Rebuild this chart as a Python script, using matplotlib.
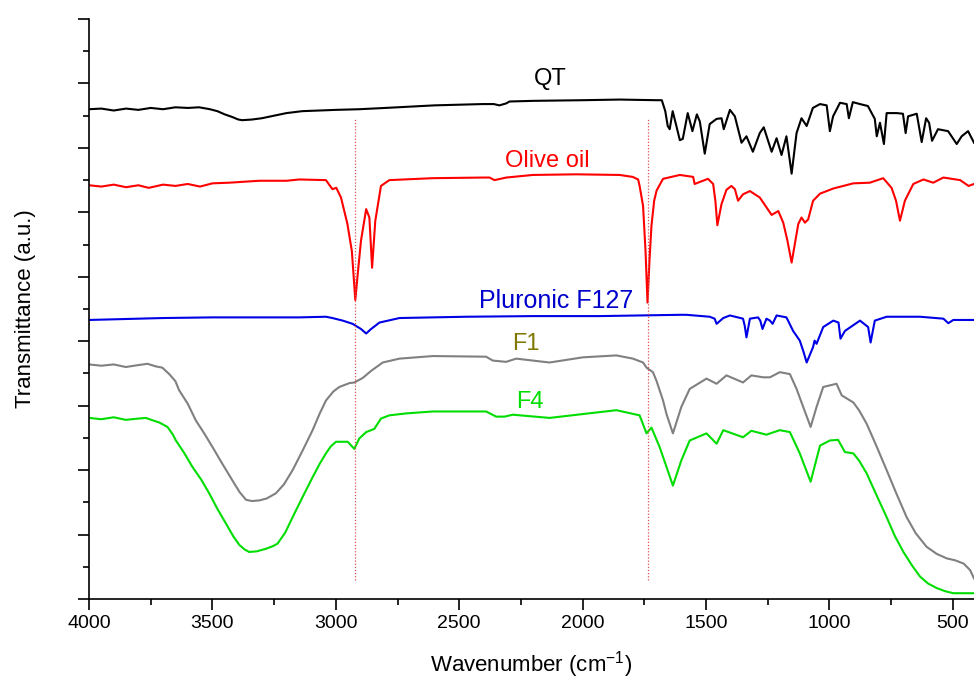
import numpy as np
import matplotlib
matplotlib.use("Agg")
import matplotlib.pyplot as plt
from matplotlib.ticker import MultipleLocator

plt.rcParams['font.family'] = ['Liberation Sans', 'DejaVu Sans']
plt.rcParams['mathtext.fontset'] = 'custom'
plt.rcParams['mathtext.rm'] = 'Liberation Sans'
plt.rcParams['mathtext.it'] = 'Liberation Sans'

## spectra (wavenumber in cm-1, transmittance in a.u.)
qt_w = [4000, 3950, 3900, 3850, 3800, 3750, 3700, 3650, 3600, 3554, 3510, 3480, 3450, 3420,
        3395, 3379, 3340, 3300, 3250, 3200, 3136, 3000, 2905, 2800, 2600,
        2405, 2360, 2337, 2310, 2296, 2200, 2000, 1850, 1700, 1679, 1665, 1655, 1647, 1635,
        1620, 1606, 1594, 1574, 1555, 1537, 1525, 1505, 1485, 1457, 1437, 1428, 1403, 1383,
        1356, 1336, 1310, 1282, 1266, 1234, 1214, 1194, 1174, 1153, 1133, 1113, 1092, 1067,
        1038, 1011, 998, 985, 957, 930, 921, 905, 876, 844, 816, 808, 795, 779, 768, 727,
        702, 691, 681, 646, 626, 608, 596, 584, 560, 519, 484, 464, 438, 414]
qt_t = [7.60, 7.61, 7.58, 7.61, 7.59, 7.62, 7.60, 7.63, 7.62, 7.63, 7.60, 7.57, 7.52, 7.48,
        7.44, 7.43, 7.44, 7.46, 7.50, 7.54, 7.57, 7.59, 7.60, 7.62, 7.66,
        7.68, 7.68, 7.66, 7.69, 7.72, 7.73, 7.74, 7.75, 7.74, 7.74, 7.57, 7.34, 7.29, 7.57,
        7.34, 7.12, 7.14, 7.54, 7.26, 7.52, 7.41, 6.91, 7.37, 7.45, 7.46, 7.29, 7.59, 7.49,
        7.08, 7.18, 6.94, 7.23, 7.32, 6.94, 7.15, 6.89, 7.18, 6.60, 7.23, 7.46, 7.34, 7.62,
        7.68, 7.66, 7.26, 7.49, 7.70, 7.68, 7.46, 7.71, 7.68, 7.65, 7.45, 7.18, 7.39, 7.06,
        7.54, 7.54, 7.53, 7.23, 7.49, 7.53, 7.09, 7.46, 7.39, 7.11, 7.29, 7.26, 7.06, 7.18,
        7.26, 7.08]

oil_w = [4000, 3950, 3900, 3850, 3800, 3758, 3700, 3650, 3600, 3550, 3500, 3432, 3310, 3200,
         3148, 3040, 3014, 2998, 2979,
         2953, 2935, 2921, 2910, 2898, 2877, 2864, 2853, 2840, 2817, 2783, 2608, 2400, 2377,
         2357, 2309, 2202, 2026, 1850, 1797, 1775, 1769, 1755, 1745, 1737, 1729, 1721, 1710,
         1700, 1674, 1606, 1552, 1546, 1492, 1471, 1462, 1454, 1437, 1417, 1397, 1383, 1370,
         1350, 1322, 1282, 1234, 1207, 1187, 1170, 1153, 1126, 1113, 1099, 1086, 1066, 1038,
         984, 903, 836, 782, 748, 730, 714, 694, 660, 619, 579, 538, 470, 436, 414]
oil_t = [6.42, 6.40, 6.43, 6.39, 6.42, 6.38, 6.43, 6.41, 6.44, 6.40, 6.45, 6.46, 6.49, 6.49,
         6.51, 6.50, 6.36, 6.38, 6.23,
         5.82, 5.40, 4.64, 5.09, 5.56, 6.05, 5.92, 5.14, 5.87, 6.41, 6.50, 6.53, 6.54, 6.54,
         6.50, 6.54, 6.58, 6.59, 6.58, 6.55, 6.51, 6.41, 6.10, 5.40, 4.60, 5.25, 5.79, 6.18,
         6.34, 6.52, 6.58, 6.55, 6.44, 6.52, 6.44, 6.18, 5.80, 6.13, 6.35, 6.41, 6.36, 6.18,
         6.28, 6.33, 6.23, 5.96, 6.02, 5.84, 5.56, 5.22, 5.82, 5.92, 5.84, 5.89, 6.18, 6.29,
         6.37, 6.45, 6.46, 6.53, 6.38, 6.18, 5.87, 6.18, 6.44, 6.51, 6.46, 6.54, 6.50, 6.41, 6.44]

f127_w = [4000, 3900, 3800, 3700, 3500, 3300, 3148, 3040, 3014, 2972, 2932, 2898, 2877, 2857,
          2823, 2742, 2472, 2200, 1931, 1606, 1579, 1485, 1465, 1457, 1430, 1403, 1350, 1343,
          1336, 1322, 1289, 1280, 1271, 1255, 1241, 1230, 1214, 1174, 1147, 1120, 1106, 1092,
          1066, 1060, 1052, 1025, 984, 963, 955, 937, 876, 843, 833, 816, 768, 633, 538, 518,
          498, 414]
f127_t = [4.33, 4.34, 4.35, 4.36, 4.37, 4.37, 4.37, 4.38, 4.36, 4.32, 4.27, 4.19, 4.12, 4.19,
          4.29, 4.36, 4.38, 4.39, 4.39, 4.41, 4.41, 4.38, 4.35, 4.27, 4.36, 4.40, 4.35, 4.24,
          4.06, 4.35, 4.37, 4.32, 4.19, 4.35, 4.32, 4.27, 4.40, 4.37, 4.16, 4.01, 3.85, 3.67,
          3.91, 4.01, 3.96, 4.22, 4.32, 4.29, 4.04, 4.16, 4.32, 4.22, 3.98, 4.32, 4.38, 4.38,
          4.35, 4.28, 4.33, 4.33]

f1_w = [4000, 3950, 3900, 3851, 3800, 3763, 3730, 3703, 3675, 3650, 3635, 3600, 3567, 3530,
        3500, 3460, 3419, 3390, 3364, 3340, 3310, 3280, 3243, 3210, 3175, 3135, 3094, 3065,
        3040, 3010, 2986, 2945, 2925, 2891, 2857, 2810, 2742, 2607, 2391, 2364, 2310, 2269,
        2134, 1999, 1863, 1796, 1755, 1741, 1715, 1701, 1674, 1660, 1634, 1600, 1566, 1498,
        1457, 1417, 1350, 1316, 1268, 1241, 1201, 1160, 1133, 1106, 1076, 1052, 1025, 971,
        950, 903, 880, 849, 810, 768, 730, 687, 650, 606, 565, 524, 490, 456, 430, 414]
f1_t = [3.64, 3.62, 3.64, 3.60, 3.63, 3.65, 3.61, 3.59, 3.49, 3.38, 3.24, 3.03, 2.77, 2.55,
        2.36, 2.10, 1.84, 1.66, 1.54, 1.52, 1.53, 1.56, 1.64, 1.78, 2.00, 2.30, 2.62, 2.88,
        3.08, 3.22, 3.29, 3.35, 3.36, 3.43, 3.54, 3.67, 3.73, 3.77, 3.76, 3.70, 3.68, 3.73,
        3.67, 3.75, 3.78, 3.73, 3.67, 3.59, 3.52, 3.39, 3.08, 2.87, 2.57, 2.98, 3.26, 3.42,
        3.34, 3.47, 3.36, 3.47, 3.44, 3.44, 3.52, 3.49, 3.26, 2.98, 2.67, 2.98, 3.29, 3.34,
        3.16, 3.05, 2.93, 2.72, 2.38, 2.00, 1.65, 1.27, 1.02, 0.81, 0.70, 0.63, 0.60, 0.55,
        0.45, 0.32]

f4_w = [4000, 3950, 3900, 3851, 3800, 3770, 3740, 3716, 3682, 3660, 3648, 3615, 3581, 3545,
        3513, 3480, 3445, 3415, 3391, 3370, 3351, 3320, 3283, 3255, 3236, 3205, 3175, 3135,
        3094, 3065, 3040, 3020, 2999, 2952, 2925, 2905, 2877, 2844, 2817, 2783, 2715, 2607,
        2391, 2350, 2316, 2283, 2134, 1999, 1863, 1769, 1741, 1721, 1688, 1634, 1600, 1566,
        1498, 1457, 1430, 1350, 1316, 1255, 1201, 1160, 1120, 1076, 1038, 998, 965, 937, 903,
        880, 849, 810, 768, 735, 700, 665, 633, 600, 565, 530, 498, 414]
f4_t = [2.81, 2.79, 2.82, 2.78, 2.80, 2.81, 2.77, 2.74, 2.67, 2.55, 2.46, 2.27, 2.05, 1.85,
        1.64, 1.40, 1.17, 0.97, 0.84, 0.77, 0.73, 0.74, 0.78, 0.82, 0.86, 1.03, 1.27, 1.58,
        1.89, 2.10, 2.26, 2.37, 2.44, 2.44, 2.33, 2.49, 2.59, 2.64, 2.80, 2.85, 2.88, 2.91,
        2.91, 2.83, 2.83, 2.86, 2.81, 2.87, 2.93, 2.85, 2.57, 2.66, 2.36, 1.76, 2.15, 2.46,
        2.57, 2.41, 2.62, 2.51, 2.61, 2.55, 2.62, 2.59, 2.26, 1.82, 2.38, 2.46, 2.47, 2.28,
        2.26, 2.15, 1.95, 1.62, 1.27, 0.98, 0.73, 0.52, 0.35, 0.24, 0.17, 0.12, 0.09, 0.09]

marker_w = [2922, 1735]   # dotted guide lines

series = [
    (qt_w, qt_t, 'black', 'QT', 2130, 8.07, 'black', 17),
    (oil_w, oil_t, '#ff0000', 'Olive oil', 2142, 6.80, '#ff0000', 17),
    (f127_w, f127_t, '#0000e6', 'Pluronic F127', 2107, 4.63, '#0000cc', 18),
    (f1_w, f1_t, '#808080', 'F1', 2229, 3.96, '#807800', 17),
    (f4_w, f4_t, '#00dd00', 'F4', 2213, 3.05, '#00dd00', 17),
]

fig = plt.figure(figsize=(9.74, 6.86), dpi=100)
ax = fig.add_axes([0.0914, 0.1268, 0.9086, 0.8455])

for w, t, col, name, lx, ly, tcol, fs in series:
    ax.plot(w, t, color=col, lw=1.5)
    ax.text(lx, ly, name, color=tcol, fontsize=fs, ha='center', va='center')

for mw in marker_w:
    ax.plot([mw, mw], [0.29, 7.47], color='#e05050', lw=0.9, ls=(0, (1, 1.5)))

ax.set_xlim(4000, 414)
ax.set_ylim(0, 9)
ax.xaxis.set_major_locator(MultipleLocator(500))
ax.xaxis.set_minor_locator(MultipleLocator(250))
ax.yaxis.set_major_locator(MultipleLocator(1))
ax.yaxis.set_minor_locator(MultipleLocator(0.5))
ax.set_yticklabels([])
ax.tick_params(which='major', direction='out', length=8, width=1.2, labelsize=14)
ax.tick_params(which='minor', direction='out', length=4.5, width=1.2)
ax.tick_params(axis='y', which='both', labelleft=False)

for s in ['top', 'right']:
    ax.spines[s].set_visible(False)
for s in ['left', 'bottom']:
    ax.spines[s].set_linewidth(1.2)

ax.set_xlabel('Wavenumber (cm$^{-1}$)', fontsize=16, labelpad=12)
ax.set_ylabel('Transmittance (a.u.)', fontsize=16, labelpad=30)

fig.savefig('out.png', dpi=100)
